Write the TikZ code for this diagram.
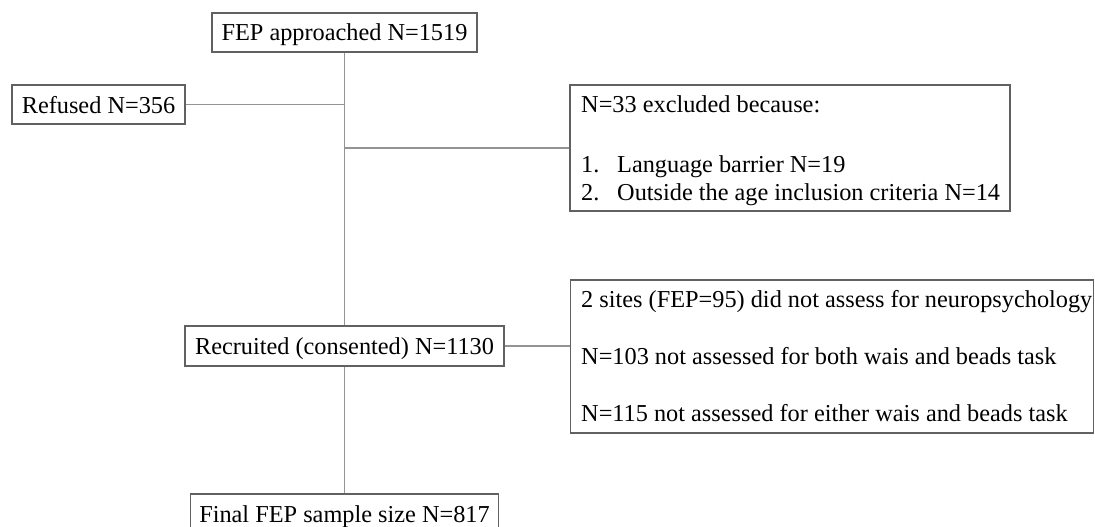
\documentclass[tikz,border=0pt]{standalone}
\usepackage{fontspec}
\setmainfont{Liberation Serif}
\begin{document}
\begin{tikzpicture}[x=1pt,y=-1pt,
  box/.style={draw=black!62, line width=1.4pt, inner sep=0pt, text height=17pt, text depth=0pt, anchor=center, font=\fontsize{24.3}{28}\selectfont, text=black},
  bigbox/.style={draw=black!62, line width=1.4pt, inner sep=0pt},
  txt/.style={anchor=base west, inner sep=0pt, font=\fontsize{24.3}{28}\selectfont, text=black},
  link/.style={draw=black!42, line width=1.2pt}]
\useasboundingbox (0,0) rectangle (1095,527);
\clip (0,0) rectangle (1095,527);
\node[box, minimum width=265pt, minimum height=39pt] (top) at (344.5,32.5) {FEP approached N=1519};
\node[box, minimum width=173pt, minimum height=39pt] (ref) at (98.5,104.5) {Refused N=356};
\node[box, minimum width=319pt, minimum height=40pt] (rec) at (344.5,346) {Recruited (consented) N=1130};
\node[box, minimum width=308pt, minimum height=40pt] (fin) at (344.5,514) {Final FEP sample size N=817};
\node[bigbox, minimum width=440pt, minimum height=126pt] (excl) at (790,148) {};
\node[bigbox, minimum width=523pt, minimum height=153pt] (nas) at (832,356.5) {};
% text of excluded box
\node[txt] (e0) at (581,112) {N=33 excluded because:};
\node[txt] (e1n) at (581,172) {1.};
\node[txt] (e1) at (617,172) {Language barrier N=19};
\node[txt] (e2n) at (581,200) {2.};
\node[txt] (e2) at (617,200) {Outside the age inclusion criteria N=14};
% text of neuro box
\node[txt] (n1) at (581,307) {2 sites (FEP=95) did not assess for neuropsychology};
\node[txt] (n2) at (581,364) {N=103 not assessed for both wais and beads task};
\node[txt] (n3) at (581,421) {N=115 not assessed for either wais and beads task};
% connectors
\draw[link] (top.south) -- (rec.north);
\draw[link] (rec.south) -- (fin.north);
\draw[link] (ref.east) -- (ref.east -| top.south);
\draw[link] (excl.west -| top.south) -- (excl.west);
\draw[link] (rec.east) -- (rec.east -| nas.west);
\end{tikzpicture}
\end{document}
